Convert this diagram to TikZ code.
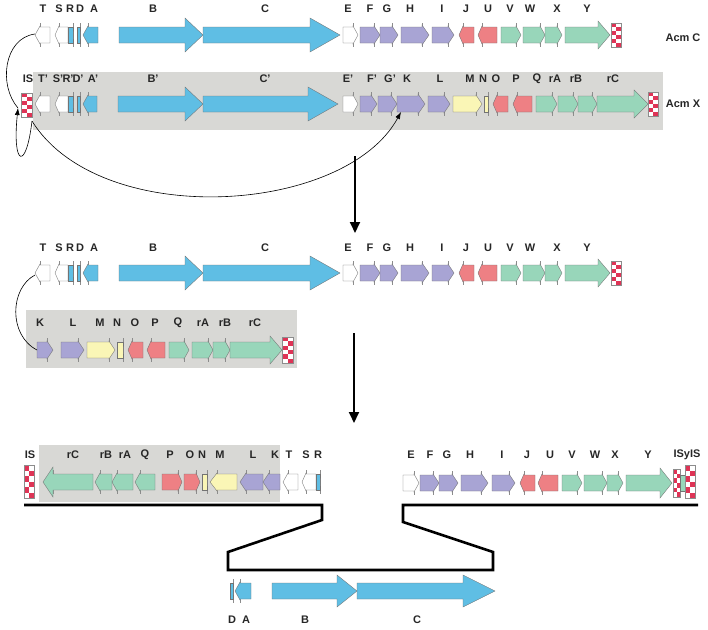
\documentclass[tikz,border=0pt]{standalone}
\usepackage{fontspec}
\setmainfont{Liberation Sans}
\usetikzlibrary{arrows.meta}

\definecolor{genblue}{RGB}{95,190,228}
\definecolor{genpurple}{RGB}{168,164,212}
\definecolor{genred}{RGB}{238,128,132}
\definecolor{gengreen}{RGB}{152,214,186}
\definecolor{genyellow}{RGB}{250,246,182}
\definecolor{isred}{RGB}{222,52,86}
\definecolor{boxgray}{RGB}{216,216,213}

\tikzset{
  gene/.style={draw=black!55, line width=0.35pt},
  tick/.style={draw=black!45, line width=0.3pt},
  lab/.style={font=\fontsize{11}{13}\selectfont\bfseries, text=black!85, inner sep=0pt},
  link/.style={black, line width=0.6pt},
  downarrow/.style={black, line width=1.8pt, -{Triangle[length=11pt,width=10pt]}},
  frame/.style={black, line width=2.6pt},
}

% gene pointing right: x1, x2, y, colour, head length, head half height
\newcommand{\gener}[6]{%
  \draw[tick] (#2-#5,#3-12) -- (#2-#5,#3+12);
  \filldraw[gene,fill=#4] (#1,#3-8) -- (#2-#5,#3-8) -- (#2-#5,#3-#6) -- (#2,#3)
    -- (#2-#5,#3+#6) -- (#2-#5,#3+8) -- (#1,#3+8) -- cycle;}
% gene pointing left: x1, x2, y, colour, head length, head half height
\newcommand{\genel}[6]{%
  \draw[tick] (#1+#5,#3-12) -- (#1+#5,#3+12);
  \filldraw[gene,fill=#4] (#2,#3-8) -- (#1+#5,#3-8) -- (#1+#5,#3-#6) -- (#1,#3)
    -- (#1+#5,#3+#6) -- (#1+#5,#3+8) -- (#2,#3+8) -- cycle;}
% IS element: x left, y centre, width, height
\newcommand{\isbox}[4]{%
  \fill[white] (#1,#2-#4/2) rectangle (#1+#3,#2+#4/2);
  \foreach \k in {0,...,5}{%
    \pgfmathsetmacro{\isx}{#1+mod(\k,2)*#3/2}
    \pgfmathsetmacro{\isy}{#2-#4/2+\k*#4/6}
    \fill[isred] (\isx,\isy) rectangle ++(#3/2,#4/6);}
  \draw[tick] (#1,#2-#4/2) rectangle (#1+#3,#2+#4/2);}

\begin{document}
\begin{tikzpicture}[x=1pt,y=-1pt]
\useasboundingbox (0,0) rectangle (708,629);

% Acm C
\genel{35}{50}{35}{white}{5}{9}
\genel{55}{68}{35}{white}{4}{9}
\gener{68}{73}{35}{genblue}{0}{8}
\gener{77}{80}{35}{genblue}{0}{8}
\genel{83}{98}{35}{genblue}{5}{9}
\gener{119}{203}{35}{genblue}{18}{17}
\gener{203}{340}{35}{genblue}{30}{17}
\gener{343}{358}{35}{white}{5}{9}
\gener{360}{380}{35}{genpurple}{6}{9}
\gener{380}{398}{35}{genpurple}{6}{9}
\gener{401}{429}{35}{genpurple}{7}{10}
\gener{432}{454}{35}{genpurple}{6}{9}
\genel{459}{474}{35}{genred}{4}{9}
\genel{478}{497}{35}{genred}{4}{9}
\gener{501}{521}{35}{gengreen}{5}{9}
\gener{523}{545}{35}{gengreen}{5}{9}
\gener{545}{562}{35}{gengreen}{5}{9}
\gener{565}{610}{35}{gengreen}{12}{14}
\isbox{611}{35}{10}{24}
\foreach \t/\x in {T/43,S/59,R/70,D/80,A/94,B/153,C/265,E/348,F/370,G/387,H/410,I/442,J/466,U/488,V/510,W/530,X/557,Y/587}
  \node[lab] (c\t) at (\x,9) {\t};
\node[lab] (acmC) at (683,38) {Acm C};

% Acm X
\fill[boxgray] (33,72) rectangle (663,130);
\isbox{21}{105}{11}{24}
\genel{35}{50}{104}{white}{5}{9}
\genel{55}{68}{104}{white}{4}{9}
\gener{68}{73}{104}{genblue}{0}{8}
\gener{77}{80}{104}{genblue}{0}{8}
\genel{83}{97}{104}{genblue}{5}{9}
\gener{118}{203}{104}{genblue}{18}{17}
\gener{203}{338}{104}{genblue}{30}{17}
\gener{343}{358}{104}{white}{5}{9}
\gener{360}{377}{104}{genpurple}{6}{9}
\gener{378}{397}{104}{genpurple}{6}{9}
\gener{397}{425}{104}{genpurple}{7}{10}
\gener{428}{450}{104}{genpurple}{6}{9}
\gener{453}{482}{104}{genyellow}{6}{9}
\gener{484}{488}{104}{genyellow}{0}{8}
\genel{493}{508}{104}{genred}{4}{9}
\genel{513}{532}{104}{genred}{4}{9}
\gener{536}{557}{104}{gengreen}{5}{9}
\gener{558}{578}{104}{gengreen}{5}{9}
\gener{578}{597}{104}{gengreen}{5}{9}
\gener{597}{648}{104}{gengreen}{14}{14}
\isbox{648}{104}{10}{24}
\foreach \n/\t/\x in {IS/IS/28,T/T'/43,S/S'/58,R/R'/68,D/D'/78,A/A'/93,B/B'/153,C/C'/265,E/E'/348,F/F'/372,G/G'/390,K/K/407,L/L/440,M/M/470,N/N/483,O/O/496,P/P/516,Q/Q/537,rA/rA/555,rB/rB/576,rC/rC/613}
  \node[lab] (x\n) at (\x,79) {\t};
\node[lab] (acmX) at (683,104) {Acm X};

% transposition connectors
\coordinate (tailT) at (35,34);
\coordinate (isTop) at (18,108);
\coordinate (isFoot) at (32,121);
\coordinate (kHead) at (401,112);
\draw[link] (tailT) .. controls (4,38) and (-2,85) .. (isTop);
\draw[link,-{Latex[length=7pt,width=5pt]}] (isFoot) .. controls (26,172) and (12,166) .. (isTop);
\draw[link,-{Latex[length=7pt,width=5pt]}] (isFoot) .. controls (100,230) and (345,215) .. (kHead);

\coordinate (stepAtop) at (355,156);
\coordinate (stepAend) at (355,233);
\draw[downarrow] (stepAtop) -- (stepAend);

% after insertion
\genel{35}{50}{273}{white}{5}{9}
\genel{55}{68}{273}{white}{4}{9}
\gener{68}{73}{273}{genblue}{0}{8}
\gener{77}{80}{273}{genblue}{0}{8}
\genel{83}{98}{273}{genblue}{5}{9}
\gener{119}{203}{273}{genblue}{18}{17}
\gener{203}{340}{273}{genblue}{30}{17}
\gener{343}{358}{273}{white}{5}{9}
\gener{360}{380}{273}{genpurple}{6}{9}
\gener{380}{398}{273}{genpurple}{6}{9}
\gener{401}{429}{273}{genpurple}{7}{10}
\gener{432}{454}{273}{genpurple}{6}{9}
\genel{459}{474}{273}{genred}{4}{9}
\genel{478}{497}{273}{genred}{4}{9}
\gener{501}{521}{273}{gengreen}{5}{9}
\gener{523}{545}{273}{gengreen}{5}{9}
\gener{545}{562}{273}{gengreen}{5}{9}
\gener{565}{610}{273}{gengreen}{12}{14}
\isbox{611}{273}{10}{24}
\foreach \t/\x in {T/43,S/59,R/70,D/80,A/94,B/153,C/265,E/348,F/370,G/387,H/410,I/442,J/466,U/488,V/510,W/530,X/557,Y/587}
  \node[lab] (m\t) at (\x,248) {\t};

\fill[boxgray] (26,310) rectangle (297,368);
\gener{37}{53}{350}{genpurple}{6}{9}
\gener{61}{84}{350}{genpurple}{6}{9}
\gener{87}{115}{350}{genyellow}{6}{9}
\gener{117}{123}{350}{genyellow}{0}{8}
\genel{128}{143}{350}{genred}{4}{9}
\genel{147}{165}{350}{genred}{4}{9}
\gener{169}{189}{350}{gengreen}{5}{9}
\gener{192}{213}{350}{gengreen}{5}{9}
\gener{213}{230}{350}{gengreen}{5}{9}
\gener{230}{282}{350}{gengreen}{12}{14}
\isbox{282}{350}{11}{26}
\foreach \t/\x in {K/40,L/73,M/100,N/117,O/135,P/155,Q/178,rA/203,rB/225,rC/255}
  \node[lab] (i\t) at (\x,323) {\t};

\coordinate (tailT3) at (35,275);
\coordinate (headK4) at (37,350);
\draw[link] (tailT3) .. controls (10,288) and (8,335) .. (headK4);

\coordinate (stepBtop) at (354,333);
\coordinate (stepBend) at (354,423);
\draw[downarrow] (stepBtop) -- (stepBend);

% inverted segment and excision
\fill[boxgray] (39,445) rectangle (280,502);
\isbox{24}{481.5}{10}{33}
\genel{43}{93}{482}{gengreen}{10}{15}
\genel{95}{112}{482}{gengreen}{5}{9}
\genel{112}{133}{482}{gengreen}{5}{9}
\genel{135}{155}{482}{gengreen}{5}{9}
\gener{162}{182}{482}{genred}{4}{9}
\gener{184}{200}{482}{genred}{4}{9}
\gener{202}{207}{482}{genyellow}{0}{8}
\genel{210}{237}{482}{genyellow}{7}{9}
\genel{240}{263}{482}{genpurple}{6}{9}
\genel{263}{280}{482}{genpurple}{6}{9}
\genel{283}{298}{482}{white}{5}{9}
\genel{302}{316}{482}{white}{4}{9}
\gener{316}{320}{482}{genblue}{0}{8}
\foreach \t/\x in {IS/30,rC/73,rB/106,rA/125,Q/145,P/170,O/190,N/202,M/220,L/253,K/275,T/289,S/306,R/318}
  \node[lab] (l\t) at (\x,455) {\t};

\gener{403}{419}{483}{white}{5}{9}
\gener{420}{439}{483}{genpurple}{6}{9}
\gener{439}{458}{483}{genpurple}{6}{9}
\gener{461}{488}{483}{genpurple}{7}{10}
\gener{492}{515}{483}{genpurple}{6}{9}
\genel{520}{535}{483}{genred}{4}{9}
\genel{538}{558}{483}{genred}{4}{9}
\gener{562}{582}{483}{gengreen}{5}{9}
\gener{584}{607}{483}{gengreen}{5}{9}
\gener{607}{623}{483}{gengreen}{5}{9}
\gener{626}{672}{483}{gengreen}{12}{15}
\isbox{673}{483}{7}{28}
\gener{680}{685}{483}{gengreen}{0}{8}
\isbox{685}{481.5}{10}{33}
\foreach \t/\x in {E/411,F/430,G/447,H/470,I/502,J/527,U/550,V/572,W/595,X/615,Y/648}
  \node[lab] (r\t) at (\x,455) {\t};
\node[lab] (rIS) at (687,455) {ISyIS};

\draw[frame] (24,505) -- (322,505) -- (322,520) -- (228,552) -- (228,570) -- (493,570)
  -- (493,552) -- (403,522) -- (403,505) -- (698,505);

\gener{230}{233}{591}{genblue}{0}{8}
\genel{235}{251}{591}{genblue}{5}{9}
\gener{272}{357}{591}{genblue}{20}{16}
\gener{357}{495}{591}{genblue}{32}{16}
\foreach \t/\x in {D/232,A/246,B/305,C/417}
  \node[lab] (b\t) at (\x,620) {\t};
\end{tikzpicture}
\end{document}
